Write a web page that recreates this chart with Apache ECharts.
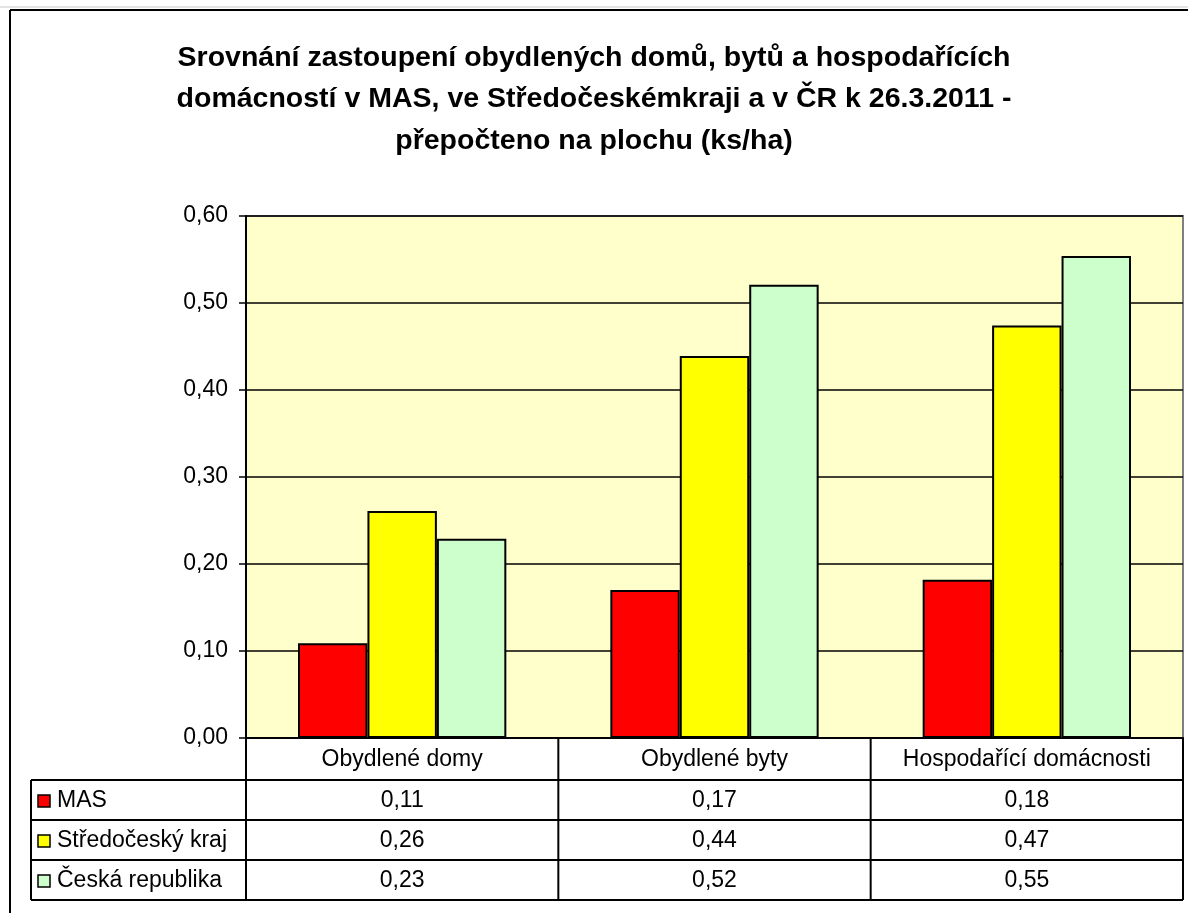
<!DOCTYPE html>
<html>
<head>
<meta charset="utf-8">
<script src="https://cdn.jsdelivr.net/npm/echarts@6/dist/echarts.min.js"></script>
<style>
    html, body { margin: 0; padding: 0; background: #fff; }
    #chart { width: 1188px; height: 913px; }
</style>
</head>
<body>
<div id="chart"></div>
<script>
    var categories = ['Obydlené domy', 'Obydlené byty', 'Hospodařící domácnosti'];
    var seriesNames = ['MAS', 'Středočeský kraj', 'Česká republika'];
    var masValues = [0.109, 0.170, 0.182];
    var krajValues = [0.261, 0.439, 0.474];
    var crValues = [0.229, 0.521, 0.554];
    var seriesColors = ['#FF0000', '#FFFF00', '#CCFFCC'];
    var yMin = 0, yMax = 0.6, yStep = 0.1;

    var allValues = [masValues, krajValues, crValues];
    var font = 'Arial, "Liberation Sans", sans-serif';
    var fontSize = 23;

    // plot area / table layout
    var gridLeft = 246, gridTop = 216, gridRight = 1183, gridBottom = 738;
    var tableLeft = 31, headerH = 42, rowH = 40;

    function fmt(v) {
        return v.toFixed(2).replace('.', ',');
    }

    var chart = echarts.init(document.getElementById('chart'));

    var colW = (gridRight - gridLeft) / categories.length;
    var rowsTop = gridBottom + headerH;
    var tableBottom = rowsTop + rowH * seriesNames.length;
    var line = { stroke: '#000', lineWidth: 2 };
    var textFont = fontSize + 'px ' + font;
    var elements = [];

    // outer frame of the chart
    elements.push({ type: 'line', shape: { x1: 0, y1: 7, x2: 1188, y2: 7 }, style: { stroke: '#c8c8c8', lineWidth: 1 } });
    elements.push({ type: 'line', shape: { x1: 10, y1: 10, x2: 1188, y2: 10 }, style: line });
    elements.push({ type: 'line', shape: { x1: 10, y1: 10, x2: 10, y2: 913 }, style: line });

    // data table
    for (var r = 0; r <= seriesNames.length; r++) {
        var y = rowsTop + r * rowH;
        elements.push({ type: 'line', shape: { x1: tableLeft, y1: y, x2: gridRight, y2: y }, style: line });
    }
    elements.push({ type: 'line', shape: { x1: tableLeft, y1: rowsTop, x2: tableLeft, y2: tableBottom }, style: line });
    for (var c = 0; c <= categories.length; c++) {
        var x = gridLeft + c * colW;
        elements.push({ type: 'line', shape: { x1: x, y1: gridBottom, x2: x, y2: tableBottom }, style: line });
    }
    for (var c = 0; c < categories.length; c++) {
        elements.push({
            type: 'text', x: gridLeft + (c + 0.5) * colW, y: gridBottom + headerH / 2 + 1,
            style: { text: categories[c], font: textFont, fill: '#000', align: 'center', verticalAlign: 'middle' }
        });
    }
    for (var r = 0; r < seriesNames.length; r++) {
        var cy = rowsTop + (r + 0.5) * rowH + 1;
        elements.push({
            type: 'rect', shape: { x: 38, y: cy - 6, width: 12, height: 12 },
            style: { fill: seriesColors[r], stroke: '#000', lineWidth: 1.5 }
        });
        elements.push({
            type: 'text', x: 57, y: cy,
            style: { text: seriesNames[r], font: textFont, fill: '#000', align: 'left', verticalAlign: 'middle' }
        });
        for (var c = 0; c < categories.length; c++) {
            elements.push({
                type: 'text', x: gridLeft + (c + 0.5) * colW, y: cy,
                style: { text: fmt(allValues[r][c]), font: textFont, fill: '#000', align: 'center', verticalAlign: 'middle' }
            });
        }
    }

    var series = [];
    for (var i = 0; i < seriesNames.length; i++) {
        series.push({
            name: seriesNames[i],
            type: 'bar',
            data: allValues[i],
            barGap: '0%',
            barCategoryGap: '33.3%',
            itemStyle: { color: seriesColors[i], borderColor: '#000', borderWidth: 2 }
        });
    }

    var option = {
        animation: false,
        backgroundColor: '#fff',
        title: {
            text: 'Srovnání zastoupení obydlených domů, bytů a hospodařících\ndomácností v MAS, ve Středočeskémkraji a v ČR k 26.3.2011 -\npřepočteno na plochu (ks/ha)',
            left: 'center',
            top: 32,
            textStyle: { fontFamily: font, fontSize: 28.5, fontWeight: 'bold', color: '#000', lineHeight: 41.5 }
        },
        grid: {
            left: gridLeft, top: gridTop, right: 1188 - gridRight, bottom: 913 - gridBottom,
            show: true, backgroundColor: '#FFFFCC', borderColor: '#808080', borderWidth: 2
        },
        xAxis: {
            type: 'category',
            data: categories,
            axisLine: { lineStyle: { color: '#000', width: 2 } },
            axisTick: { show: false },
            axisLabel: { show: false }
        },
        yAxis: {
            type: 'value',
            min: yMin, max: yMax, interval: yStep,
            axisLine: { show: true, lineStyle: { color: '#000', width: 2 } },
            axisTick: { show: true, length: 7, lineStyle: { color: '#000', width: 1.5 } },
            axisLabel: { color: '#000', fontFamily: font, fontSize: fontSize, margin: 18, formatter: fmt },
            splitLine: { lineStyle: { color: '#000', width: 1.5 } }
        },
        series: series,
        graphic: elements
    };
    chart.setOption(option);
</script>
</body>
</html>
